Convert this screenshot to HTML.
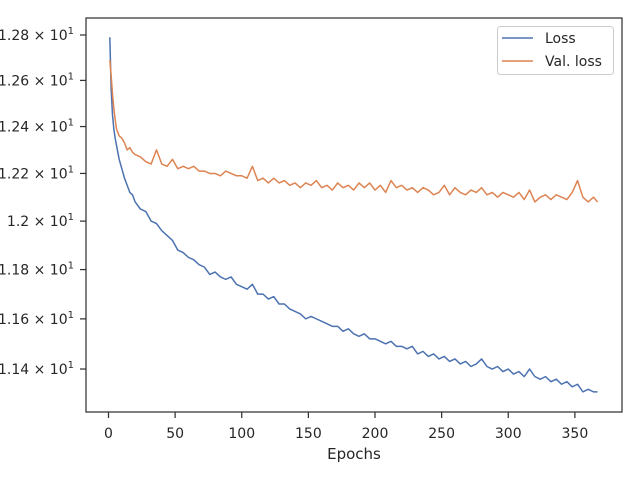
<!DOCTYPE html>
<html><head><meta charset="utf-8"><style>
html,body{margin:0;padding:0;background:#fff;}
svg{display:block;font-family:"DejaVu Sans","Liberation Sans",sans-serif;}
</style></head><body>
<svg id="chart" width="640" height="480" viewBox="0 0 640 480">
<rect x="0" y="0" width="640" height="480" fill="#fff"/>
<g id="plot"></g>
<g id="axes"></g>
</svg>
<script>
const epochs=[1,2,3,4,5,6,8,10,12,14,16,18,20,24,28,32,36,40,44,48,52,56,60,64,68,72,76,80,84,88,92,96,100,104,108,112,116,120,124,128,132,136,140,144,148,152,156,160,164,168,172,176,180,184,188,192,196,200,204,208,212,216,220,224,228,232,236,240,244,248,252,256,260,264,268,272,276,280,284,288,292,296,300,304,308,312,316,320,324,328,332,336,340,344,348,352,356,360,364,367];
const lossValues=[12.79,12.56,12.45,12.39,12.35,12.32,12.26,12.22,12.18,12.15,12.12,12.11,12.08,12.05,12.04,12.00,11.99,11.96,11.94,11.92,11.88,11.87,11.85,11.84,11.82,11.81,11.78,11.79,11.77,11.76,11.77,11.74,11.73,11.72,11.74,11.70,11.70,11.68,11.69,11.66,11.66,11.64,11.63,11.62,11.60,11.61,11.60,11.59,11.58,11.57,11.57,11.55,11.56,11.54,11.53,11.54,11.52,11.52,11.51,11.50,11.51,11.49,11.49,11.48,11.49,11.46,11.47,11.45,11.46,11.44,11.45,11.43,11.44,11.42,11.43,11.41,11.42,11.44,11.41,11.40,11.41,11.39,11.40,11.38,11.39,11.37,11.40,11.37,11.36,11.37,11.35,11.36,11.34,11.35,11.33,11.34,11.31,11.32,11.31,11.31];
const valLossValues=[12.69,12.62,12.54,12.48,12.43,12.39,12.36,12.35,12.33,12.30,12.31,12.29,12.28,12.27,12.25,12.24,12.30,12.24,12.23,12.26,12.22,12.23,12.22,12.23,12.21,12.21,12.20,12.20,12.19,12.21,12.20,12.19,12.19,12.18,12.23,12.17,12.18,12.16,12.18,12.16,12.17,12.15,12.16,12.14,12.16,12.15,12.17,12.14,12.15,12.13,12.16,12.14,12.15,12.13,12.16,12.14,12.16,12.13,12.15,12.12,12.17,12.14,12.15,12.13,12.14,12.12,12.14,12.13,12.11,12.12,12.15,12.11,12.14,12.12,12.11,12.13,12.12,12.14,12.11,12.12,12.10,12.12,12.11,12.10,12.12,12.09,12.13,12.08,12.10,12.11,12.09,12.11,12.10,12.09,12.12,12.17,12.10,12.08,12.10,12.08];
const xTicks=[0,50,100,150,200,250,300,350];
const yTicks=[12.8,12.6,12.4,12.2,12.0,11.8,11.6,11.4];
const yTickLabels=["1.28","1.26","1.24","1.22","1.2","1.18","1.16","1.14"];

const NS="http://www.w3.org/2000/svg";
const L=86,R=622,T=18,B=412;
const xs=e=>108.5+e*1.3325;
const ys=v=>35+(Math.log10(12.8)-Math.log10(v))*6640;
function mk(tag,attrs,parent){const el=document.createElementNS(NS,tag);for(const k in attrs)el.setAttribute(k,attrs[k]);parent.appendChild(el);return el;}
const plot=document.getElementById('plot'),axes=document.getElementById('axes');

function series(vals,color,name){
  const d=vals.map((v,i)=>(i?'L':'M')+xs(epochs[i]).toFixed(2)+' '+ys(v).toFixed(2)).join(' ');
  const p=mk('path',{d:d,fill:'none',stroke:color,'stroke-width':1.5,'stroke-linejoin':'round'},plot);
  
  
}
series(lossValues,'#4c72b0','loss-line');
series(valLossValues,'#dd8452','val-loss-line');

const frame=mk('rect',{x:L,y:T,width:R-L,height:B-T,fill:'none',stroke:'#333','stroke-width':1.25},axes);



xTicks.forEach(t=>{
  const x=xs(t);
  mk('line',{x1:x,x2:x,y1:B,y2:B+6,stroke:'#333','stroke-width':1.25},axes);
  const tx=mk('text',{x:x,y:438,'text-anchor':'middle','font-size':14,fill:'#262626'},axes);
  tx.textContent=t;
  
  
});
yTicks.forEach((t,i)=>{
  const y=ys(t);
  mk('line',{x1:L-6,x2:L,y1:y,y2:y,stroke:'#333','stroke-width':1.25},axes);
  const tx=mk('text',{x:74,y:y+5,'text-anchor':'end','font-size':14,fill:'#262626'},axes);
  tx.textContent=yTickLabels[i]+' \u00d7 10';
  const sup=mk('tspan',{dy:-6,'font-size':10},tx);
  sup.textContent='1';
  
  
});
const xl=mk('text',{x:354,y:459,'text-anchor':'middle','font-size':15,fill:'#262626'},axes);
xl.textContent='Epochs';



const lg=mk('g',{},axes);


mk('rect',{x:497.5,y:26.5,width:116,height:48,rx:3,fill:'#fff',stroke:'#ccc','stroke-width':1},lg);
mk('line',{x1:502,x2:533,y1:38,y2:38,stroke:'#4c72b0','stroke-width':1.5},lg);
mk('line',{x1:502,x2:533,y1:61,y2:61,stroke:'#dd8452','stroke-width':1.5},lg);
const t1=mk('text',{x:545,y:43,'font-size':14,fill:'#262626'},lg);t1.textContent='Loss';


const t2=mk('text',{x:545,y:66,'font-size':14,fill:'#262626'},lg);t2.textContent='Val. loss';


</script>
</body></html>
